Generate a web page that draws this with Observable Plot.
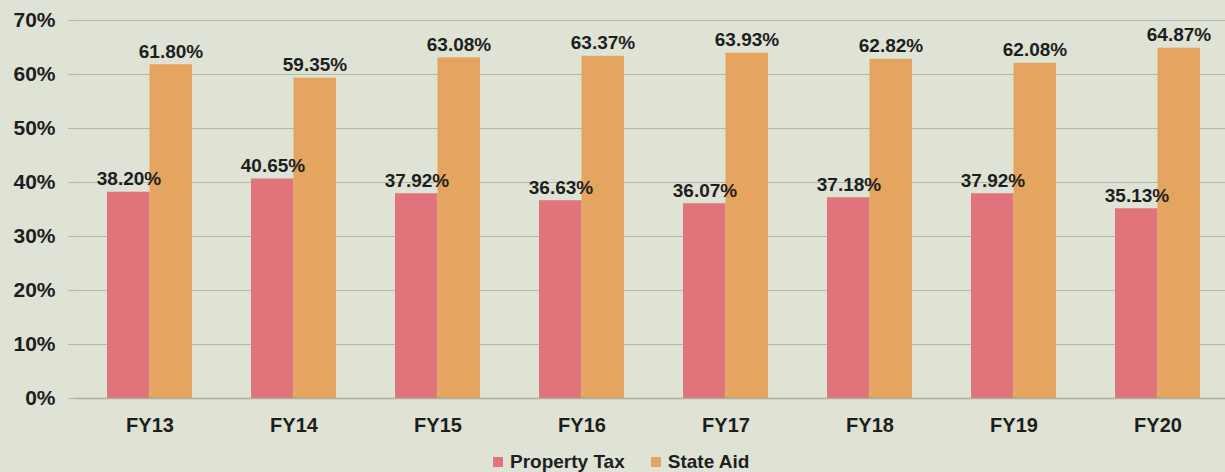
<!DOCTYPE html>
<html>
<head>
<meta charset="utf-8">
<script src="https://cdn.jsdelivr.net/npm/d3@7"></script>
<script src="https://cdn.jsdelivr.net/npm/@observablehq/plot@0.6"></script>
<style>
  html, body { margin: 0; padding: 0; background: #dfe3d5; }
  body { width: 1225px; height: 472px; overflow: hidden; font-family: "Liberation Sans", Arial, sans-serif; }
  #legend { display: flex; align-items: center; height: 27px; margin-top: 3px; margin-left: 493px; font-weight: bold; font-size: 19px; color: #1e1e1e; }
  .item { display: flex; align-items: center; margin-right: 26px; }
  .sw { width: 10px; height: 10px; margin-right: 7px; }
</style>
</head>
<body>
<div id="chart"></div>
<div id="legend"></div>
<script>
const categories = ["FY13", "FY14", "FY15", "FY16", "FY17", "FY18", "FY19", "FY20"];
const propertyTax = [38.20, 40.65, 37.92, 36.63, 36.07, 37.18, 37.92, 35.13];
const stateAid = [61.80, 59.35, 63.08, 63.37, 63.93, 62.82, 62.08, 64.87];
const yTicks = [0, 10, 20, 30, 40, 50, 60, 70];
const seriesNames = ["Property Tax", "State Aid"];
const seriesColors = ["#e0747a", "#e5a560"];

const pt = categories.map((c, i) => ({cat: c, value: propertyTax[i]}));
const sa = categories.map((c, i) => ({cat: c, value: stateAid[i]}));
const fmt = d => d.toFixed(2) + "%";
const half = 42.5;

const chart = Plot.plot({
  width: 1225,
  height: 445,
  marginTop: 20,
  marginBottom: 47,
  marginLeft: 76,
  marginRight: 0,
  style: {background: "#dfe3d5", fontFamily: "'Liberation Sans', Arial, sans-serif", overflow: "visible"},
  x: {domain: categories, range: [76, 1230], paddingInner: 0.41, paddingOuter: 0.205, label: null},
  y: {domain: [0, 70], label: null},
  marks: [
    Plot.ruleY(yTicks, {stroke: "#b4b7ab", strokeWidth: 1.2}),
    Plot.axisY({ticks: yTicks, tickSize: 8, text: null, line: true, stroke: "#b4b7ab", strokeWidth: 1.2}),
    Plot.axisY({ticks: yTicks, tickSize: 0, tickPadding: 21, tickFormat: d => d + "%", fontSize: 21, fontWeight: "bold", fill: "#1e1e1e"}),
    Plot.axisX({tickSize: 0, tickPadding: 19, fontSize: 20, fontWeight: "bold", fill: "#1e1e1e"}),
    Plot.barY(pt, {x: "cat", y: "value", fill: seriesColors[0], insetRight: half}),
    Plot.barY(sa, {x: "cat", y: "value", fill: seriesColors[1], insetLeft: half}),
    Plot.ruleY([0], {stroke: "#a9ac9f", strokeWidth: 1.5}),
    Plot.text(pt, {x: "cat", y: "value", text: d => fmt(d.value), dx: -21, dy: -7, lineAnchor: "bottom", fontSize: 19, fontWeight: "bold", fill: "#1e1e1e"}),
    Plot.text(sa, {x: "cat", y: "value", text: d => fmt(d.value), dx: 21, dy: -7, lineAnchor: "bottom", fontSize: 19, fontWeight: "bold", fill: "#1e1e1e"})
  ]
});
document.getElementById("chart").appendChild(chart);

const legend = document.getElementById("legend");
seriesNames.forEach((n, i) => {
  const it = document.createElement("div");
  it.className = "item";
  const sw = document.createElement("div");
  sw.className = "sw";
  sw.style.background = seriesColors[i];
  const t = document.createElement("span");
  t.textContent = n;
  it.appendChild(sw); it.appendChild(t);
  legend.appendChild(it);
});
</script>
</body>
</html>
